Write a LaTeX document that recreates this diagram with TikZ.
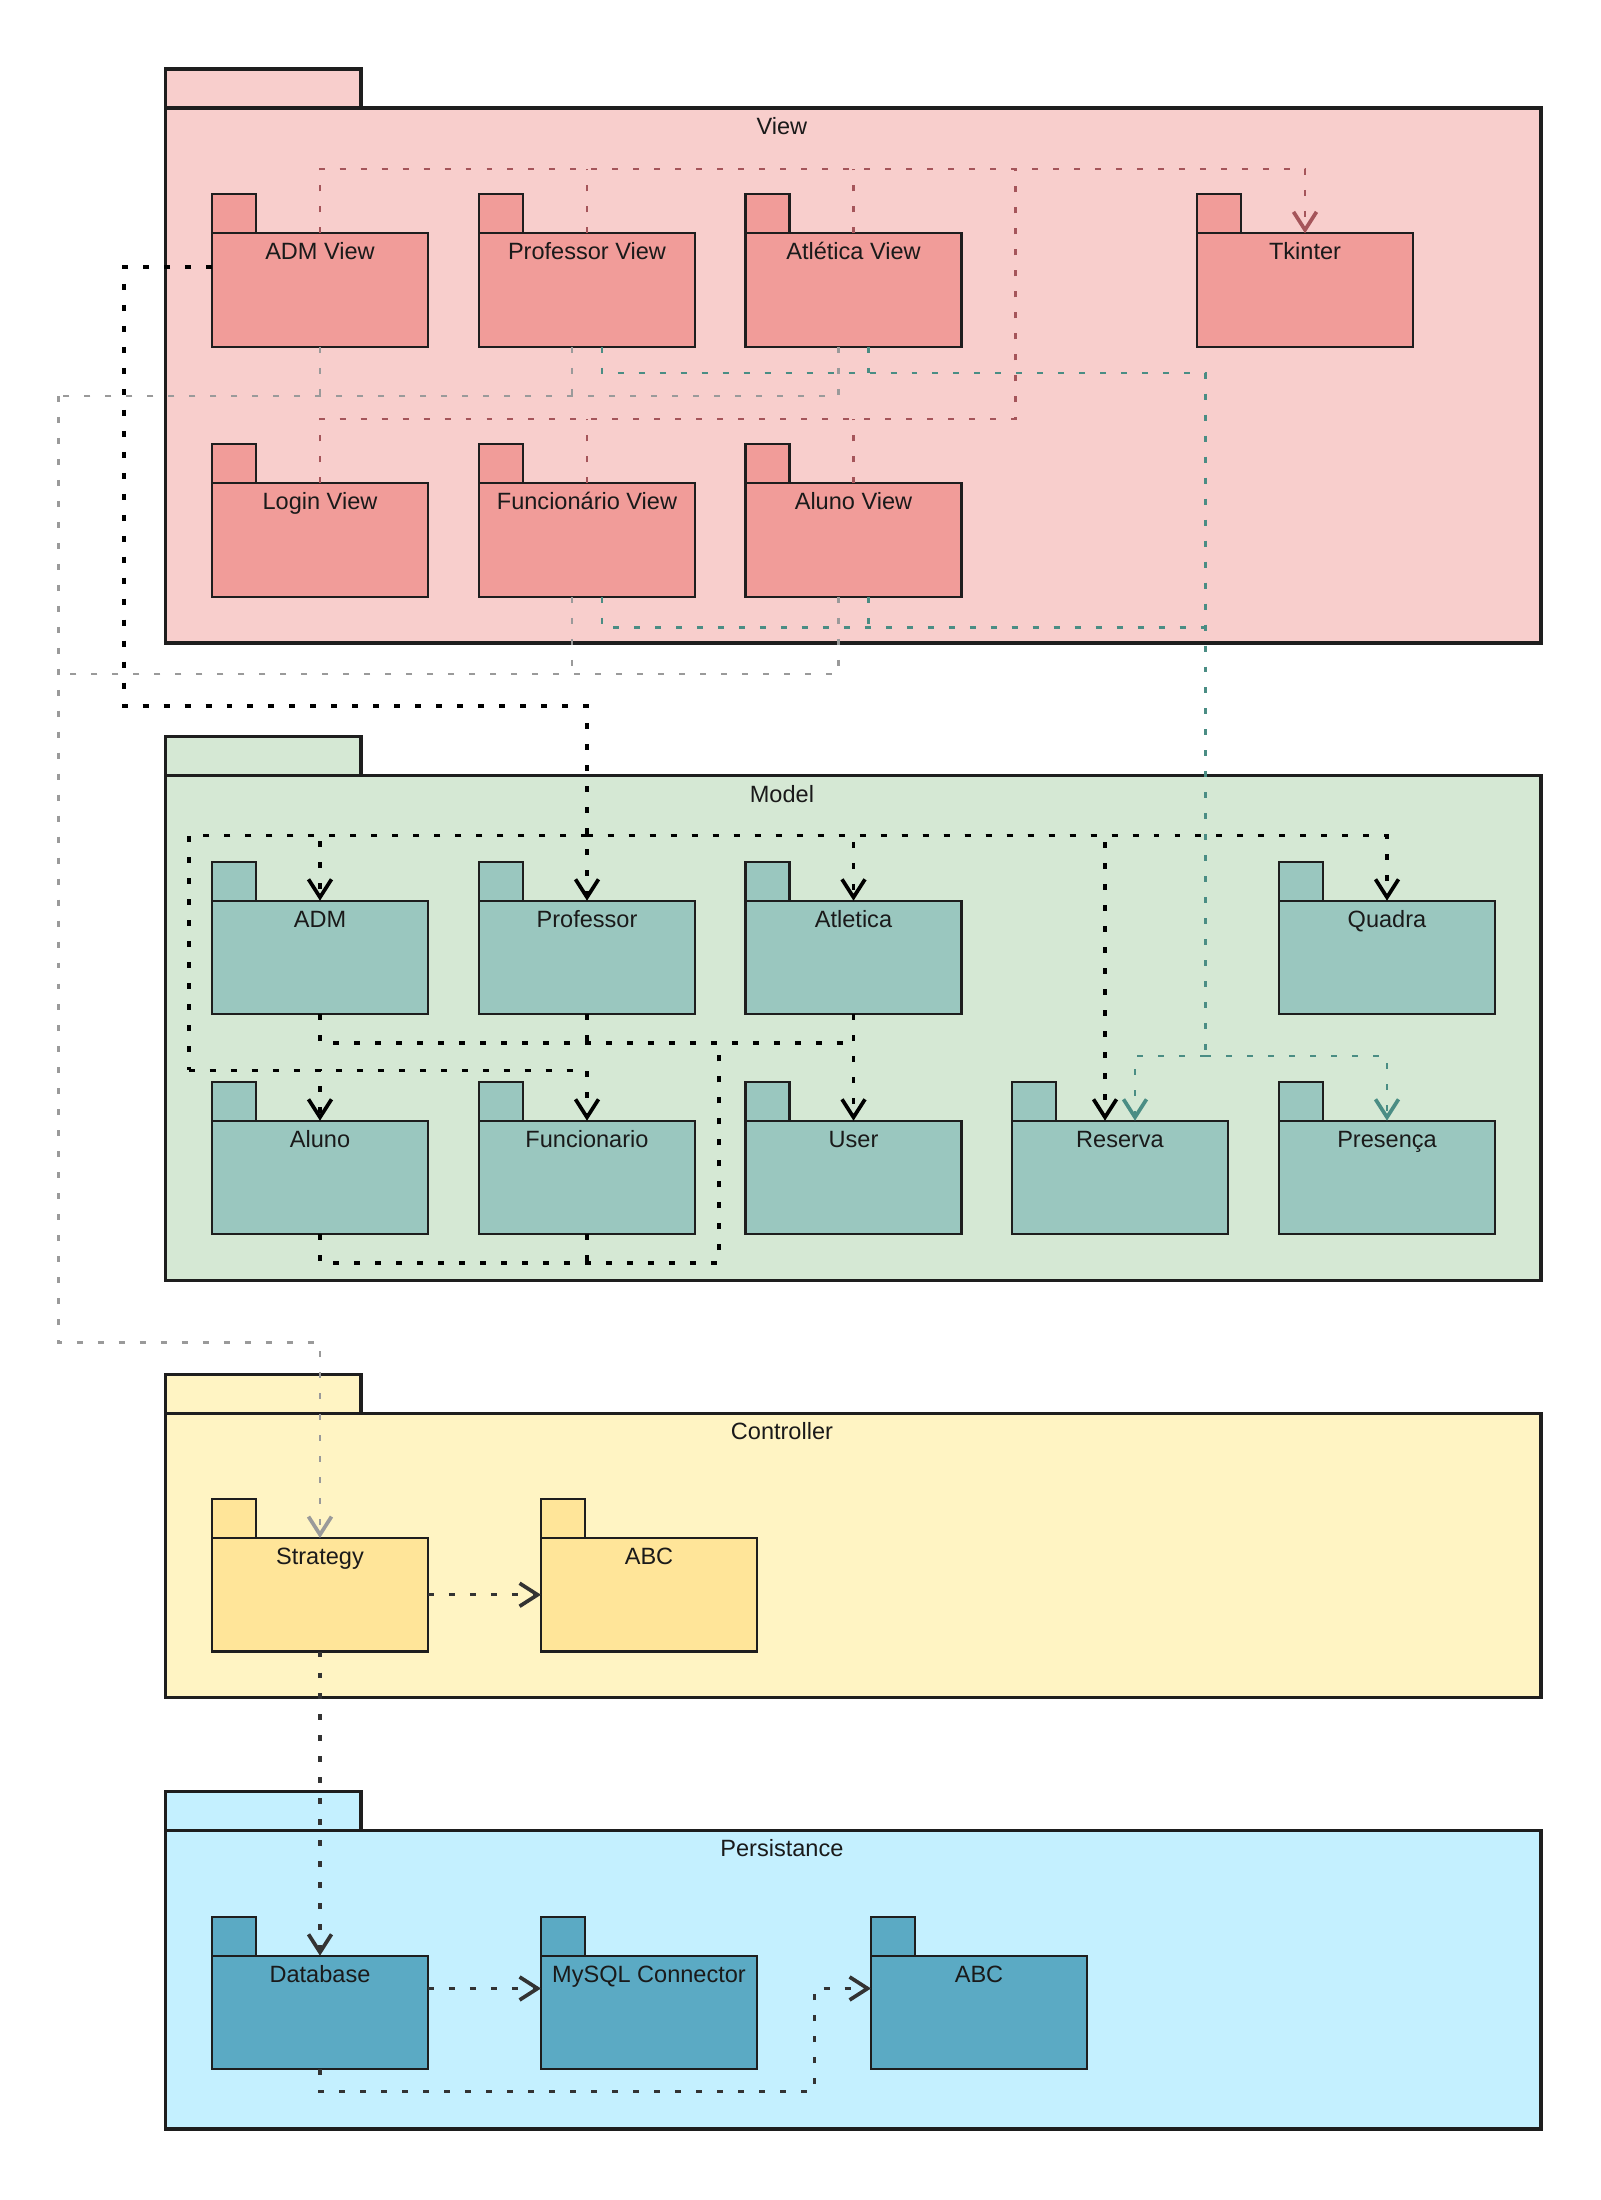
\documentclass[tikz,border=0pt]{standalone}
\usepackage{fontspec}
\setmainfont{Liberation Sans}
\usetikzlibrary{arrows.meta}

\definecolor{pkgline}{HTML}{1E1E1E}
\definecolor{txt}{HTML}{1A1A1A}
\definecolor{viewbg}{HTML}{F8CECC}
\definecolor{viewpk}{HTML}{F19C99}
\definecolor{modelbg}{HTML}{D5E8D4}
\definecolor{modelpk}{HTML}{9AC7BF}
\definecolor{ctrlbg}{HTML}{FFF4C3}
\definecolor{ctrlpk}{HTML}{FFE599}
\definecolor{persbg}{HTML}{C4F0FF}
\definecolor{perspk}{HTML}{5BAAC4}
\definecolor{reddep}{HTML}{A5555A}
\definecolor{tealdep}{HTML}{4A8D84}
\definecolor{graydep}{HTML}{9A9A9A}
\definecolor{darkdep}{HTML}{333333}

\begin{document}
\begin{tikzpicture}[x=0.1mm, y=-0.1mm,
    font=\fontsize{6.7}{8}\selectfont,
    pkgtab/.style = {draw=pkgline, line width=0.6pt,
                     minimum width=4.4mm, minimum height=3.9mm,
                     text height=0pt, text depth=0pt,
                     inner sep=0pt, outer sep=0pt, anchor=south west},
    pkg/.style    = {draw=pkgline, line width=0.6pt, fill=#1, text=txt,
                     minimum width=21.6mm, minimum height=11.35mm,
                     text height=2.65mm, text depth=8.7mm,
                     inner sep=0pt, outer sep=0pt, anchor=north west,
                     label={[pkgtab, fill=#1]north west:}},
    grptab/.style = {draw=pkgline, line width=1pt,
                     minimum width=19.55mm, minimum height=3.9mm,
                     text height=0pt, text depth=0pt,
                     inner sep=0pt, outer sep=0pt, anchor=south west},
    grp/.style    = {draw=pkgline, line width=1pt, fill=#1,
                     minimum width=137.55mm,
                     inner sep=0pt, outer sep=0pt, anchor=north west,
                     label={[grptab, fill=#1]north west:}},
    grplabel/.style = {anchor=center, yshift=-1.8mm, xshift=-7.13mm,
                       inner sep=0pt, text=txt},
    dots/.style    = {line width=0.72pt, dash pattern=on 1.7pt off 4.27pt},
    viewdep/.style = {dots, draw=reddep},
    resdep/.style  = {dots, draw=tealdep},
    ctrldep/.style = {dots, draw=graydep},
    usedep/.style  = {dots, line width=1pt, draw=black},
    dbdep/.style   = {dots, line width=0.9pt, draw=darkdep},
    opentip/.style = {-{Straight Barb[length=1.8mm, width=2.3mm, line width=1.05pt]}}]

  \fill[white] (0,0) rectangle (1600,2200);
  \useasboundingbox (0,0) rectangle (1600,2200);

  % layers
  \node[grp=viewbg, minimum height=53.5mm, label={[grplabel]north:View}] (viewgrp) at (165.5,108) {};
  \node[grp=modelbg, minimum height=50.47mm, label={[grplabel]north:Model}] (modelgrp) at (165.5,775.7) {};
  \node[grp=ctrlbg, minimum height=28.42mm, label={[grplabel]north:Controller}] (ctrlgrp) at (165.5,1413.5) {};
  \node[grp=persbg, minimum height=29.85mm, label={[grplabel]north:Persistance}] (persgrp) at (165.5,1830.5) {};

  % view
  \node[pkg=viewpk] (admv) at (212,233.3) {ADM View};
  \node[pkg=viewpk] (profv) at (479,233.3) {Professor View};
  \node[pkg=viewpk] (atlv) at (745.5,233.3) {Atlética View};
  \node[pkg=viewpk] (tkv) at (1197,233.3) {Tkinter};
  \node[pkg=viewpk] (loginv) at (212,483.3) {Login View};
  \node[pkg=viewpk] (funv) at (479,483.3) {Funcionário View};
  \node[pkg=viewpk] (alunov) at (745.5,483.3) {Aluno View};

  % model
  \node[pkg=modelpk] (adm) at (212,900.7) {ADM};
  \node[pkg=modelpk] (prof) at (479,900.7) {Professor};
  \node[pkg=modelpk] (atl) at (745.5,900.7) {Atletica};
  \node[pkg=modelpk] (quadra) at (1279,900.7) {Quadra};
  \node[pkg=modelpk] (aluno) at (212,1120.7) {Aluno};
  \node[pkg=modelpk] (func) at (479,1120.7) {Funcionario};
  \node[pkg=modelpk] (user) at (745.5,1120.7) {User};
  \node[pkg=modelpk] (reserva) at (1012,1120.7) {Reserva};
  \node[pkg=modelpk] (presenca) at (1279,1120.7) {Presença};

  % controller
  \node[pkg=ctrlpk] (strategy) at (212,1538) {Strategy};
  \node[pkg=ctrlpk] (cabc) at (541,1538) {ABC};

  % persistance
  \node[pkg=perspk] (database) at (212,1955.7) {Database};
  \node[pkg=perspk] (mysql) at (541,1955.7) {MySQL Connector};
  \node[pkg=perspk] (pabc) at (871,1955.7) {ABC};

  % views -> Tkinter
  \coordinate (rj1) at (1015.3,169);
  \coordinate (rj2) at (1015.3,419);
  \draw[viewdep, opentip] (admv.north) |- (tkv.north |- rj1) -- (tkv.north);
  \draw[viewdep] (profv.north) -- (profv.north |- rj1);
  \draw[viewdep] (atlv.north) -- (atlv.north |- rj1);
  \draw[viewdep] (loginv.north) |- (rj2) -- (rj1);
  \draw[viewdep] (funv.north) -- (funv.north |- rj2);
  \draw[viewdep] (alunov.north) -- (alunov.north |- rj2);

  % views -> Reserva, Presença
  \coordinate (tj1) at (1205.5,373);
  \coordinate (tj2) at (1205.5,627.7);
  \coordinate (tj3) at (1205.5,1056);
  \draw[resdep] ([xshift=1.5mm]profv.south) |- (tj1) -- (tj3);
  \draw[resdep] ([xshift=1.5mm]atlv.south) -- ++(0,26.3);
  \draw[resdep] ([xshift=1.5mm]funv.south) |- (tj2);
  \draw[resdep] ([xshift=1.5mm]alunov.south) -- ++(0,31);
  \draw[resdep, opentip] (tj3) -| ([xshift=1.5mm]reserva.north);
  \draw[resdep, opentip] (tj3) -| (presenca.north);

  % views -> Strategy
  \coordinate (gj1) at (58.5,396);
  \coordinate (gj2) at (58.5,674);
  \coordinate (gj3) at (58.5,1342.7);
  \draw[ctrldep] ([xshift=-1.5mm]atlv.south) |- (gj1);
  \draw[ctrldep] ([xshift=-1.5mm]profv.south) -- ++(0,49.3);
  \draw[ctrldep] (admv.south) -- ++(0,49.3);
  \draw[ctrldep] ([xshift=-1.5mm]alunov.south) |- (gj2);
  \draw[ctrldep] ([xshift=-1.5mm]funv.south) -- ++(0,77.3);
  \draw[ctrldep, opentip] (gj1) -- (gj3) -| (strategy.north);

  % ADM View -> model
  \coordinate (bk1) at (124,706);
  \coordinate (bj1) at (587,835.7);
  \coordinate (bj2) at (189,835.7);
  \coordinate (bj3) at (189,1070.4);
  \draw[usedep, opentip] ([yshift=2.3mm]admv.west) -| (bk1) -| (prof.north);
  \draw[usedep, opentip] (bj1) -| (adm.north);
  \draw[usedep, opentip] (bj1) -| (atl.north);
  \draw[usedep, opentip] (bj1) -| ([xshift=-1.5mm]reserva.north);
  \draw[usedep, opentip] (bj1) -| (quadra.north);
  \draw[usedep] (bj1) -- (bj2) -- (bj3);
  \draw[usedep, opentip] (bj3) -| (aluno.north);
  \draw[usedep, opentip] (bj3) -| (func.north);

  % model -> User
  \coordinate (uj) at (853.5,1043);
  \coordinate (lj) at (719,1263);
  \draw[usedep] (adm.south) |- (uj);
  \draw[usedep] (prof.south) -- ++(0,28.7);
  \draw[usedep, opentip] (atl.south) -- (user.north);
  \draw[usedep] (aluno.south) |- (lj) -- (lj |- uj);
  \draw[usedep] (func.south) -- ++(0,28.4);

  % controller, persistance
  \coordinate (pj) at (814.4,2091.7);
  \draw[dbdep, opentip] (strategy.east) -- (cabc.west);
  \draw[dbdep, opentip] (strategy.south) -- (database.north);
  \draw[dbdep, opentip] ([yshift=2.4mm]database.east) -- ([yshift=2.4mm]mysql.west);
  \draw[dbdep, opentip] (database.south) |- (pj) |- ([yshift=2.4mm]pabc.west);
\end{tikzpicture}
\end{document}
